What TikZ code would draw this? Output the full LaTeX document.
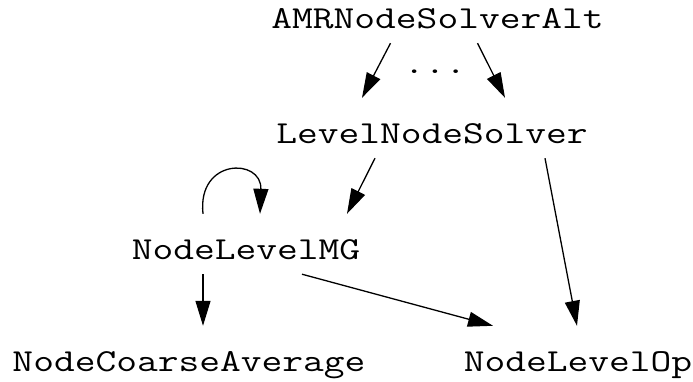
\documentclass[tikz,border=0pt]{standalone}
\usetikzlibrary{arrows.meta}

\tikzset{
  cls/.style={font=\fontsize{32}{35}\selectfont\ttfamily, xscale=1.26, anchor=base,
    text height=30pt, text depth=0pt, inner xsep=0pt, inner ysep=15pt},
  dep/.style={-{Triangle[length=25pt,width=15pt]}, line width=1.3pt}
}

\begin{document}
\begin{tikzpicture}[x=1pt,y=1pt]
			\useasboundingbox (0,0) rectangle (693,-381);
			\node[cls] (amr) at (437.5,-28) {AMRNodeSolverAlt};
			\node[cls] (dots) at (435,-73) {...};
			\node[cls] (lvl) at (432,-143) {LevelNodeSolver};
			\node[cls] (mg) at (246,-259) {NodeLevelMG};
			\node[cls] (coarse) at (189,-371) {NodeCoarseAverage};
			\node[cls] (op) at (578,-371) {NodeLevelOp};
			\draw[dep] ([xshift=-47pt]amr.south) -- ([xshift=-70pt]lvl.north);
			\draw[dep] ([xshift=40pt]amr.south) -- ([xshift=73pt]lvl.north);
			\draw[dep] ([xshift=-57pt]lvl.south) -- ([xshift=101pt]mg.north);
			\draw[dep] ([xshift=113pt]lvl.south) -- ([xshift=-1pt]op.north);
			\draw[dep] ([xshift=-43pt]mg.north) .. controls +(-6,56) and +(2,56) .. ([xshift=14pt]mg.north);
			\draw[dep] ([xshift=-43pt]mg.south) -- ([xshift=14pt]coarse.north);
			\draw[dep] ([xshift=56pt]mg.south) -- ([xshift=-85pt]op.north);
		\end{tikzpicture}
\end{document}
